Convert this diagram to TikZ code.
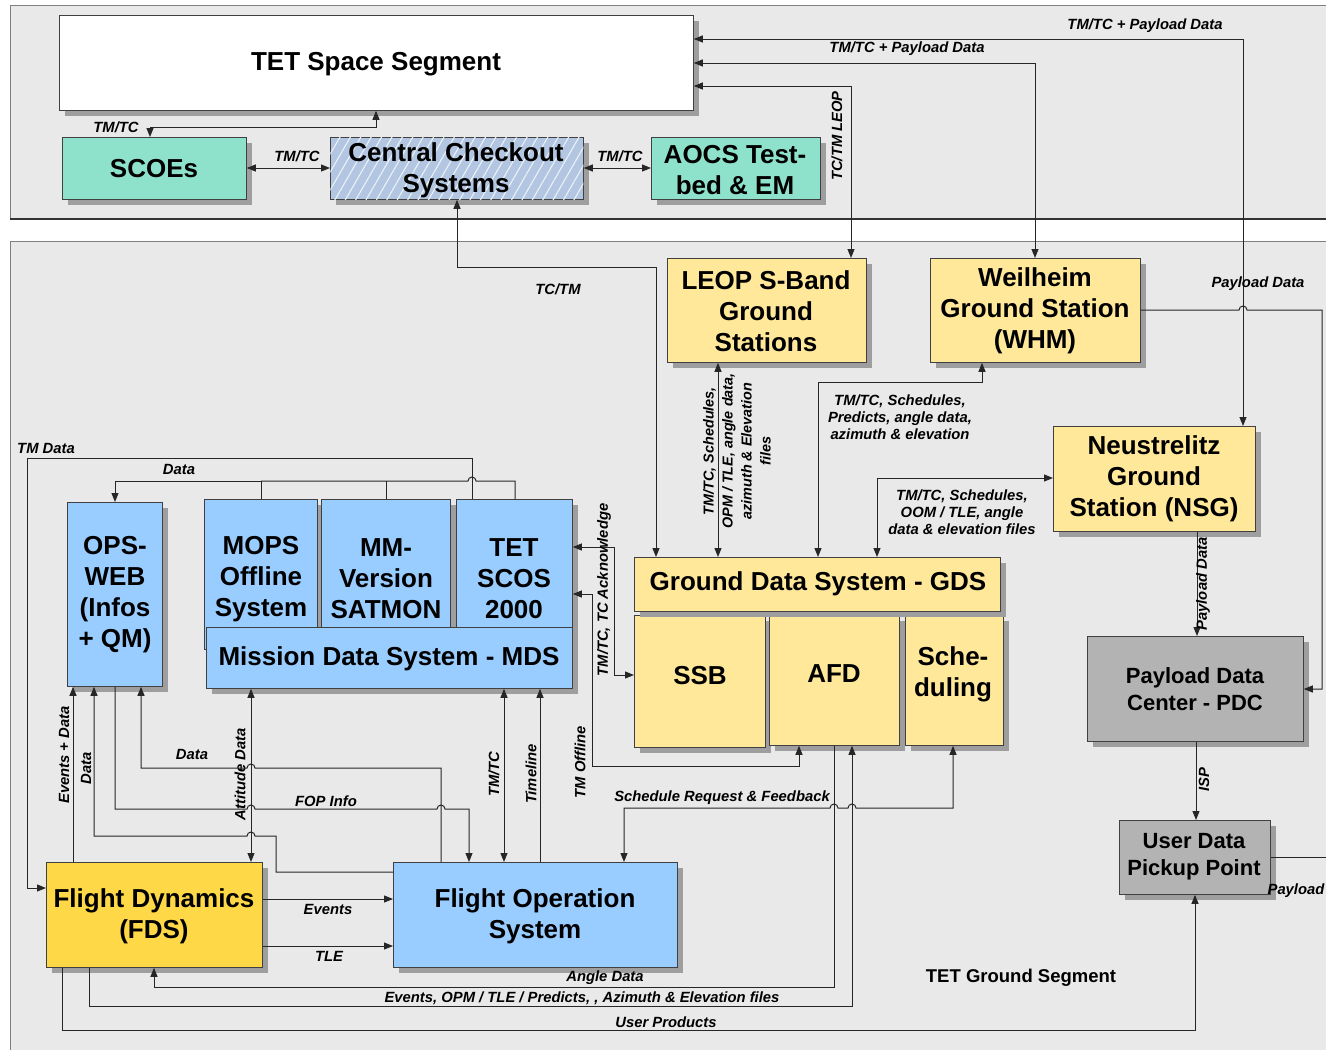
\documentclass[tikz,border=0pt]{standalone}
\usepackage{fontspec}
\setmainfont{Liberation Sans}
\usetikzlibrary{arrows.meta,shadows,patterns.meta}
\definecolor{panelbg}{RGB}{233,233,233}
\definecolor{tealbox}{RGB}{142,226,204}
\definecolor{ccsblue}{RGB}{178,198,226}
\definecolor{lightblue}{RGB}{153,204,255}
\definecolor{lightyellow}{RGB}{255,232,153}
\definecolor{goldbox}{RGB}{255,216,72}
\definecolor{graybox}{RGB}{179,179,179}
\begin{document}
\begin{tikzpicture}[x=1pt,y=-1pt,
  blk/.style={draw=black!75, line width=0.8pt, anchor=north west, inner sep=0pt,
     drop shadow={shadow xshift=6pt, shadow yshift=-6pt, fill=black!38, opacity=1}},
  txt/.style={align=center, font=\bfseries\fontsize{26}{31}\selectfont, inner sep=0pt, yshift=-2pt},
  smtxt/.style={align=center, font=\bfseries\fontsize{22}{27}\selectfont, inner sep=0pt, yshift=-1pt},
  lbl/.style={font=\bfseries\itshape\fontsize{14.8}{17}\selectfont, inner sep=0pt, align=center},
  conn/.style={line width=1pt, draw=black!85},
  >={Triangle[length=9pt,width=7pt]},
]
\useasboundingbox (0,0) rectangle (1326,1050);
\fill[white] (0,0) rectangle (1326,1050);
% panels
\fill[panelbg] (10,5) rectangle (1326,219);
\draw[black!50, line width=0.8pt] (1326,5) -- (10,5) -- (10,219);
\draw[black!80, line width=2pt] (10,219) -- (1326,219);
\fill[panelbg] (10,241) rectangle (1326,1050);
\draw[black!50, line width=0.8pt] (1326,241) -- (10,241) -- (10,1050);

% ---------- boxes ----------
\node[blk, fill=white, minimum width=634pt, minimum height=95pt] (tss) at (59,15) {};
\node[txt] (tsst) at (376,62) {TET Space Segment};
\node[blk, fill=tealbox, minimum width=184pt, minimum height=62pt] (scoes) at (62,137) {};
\node[txt] (scoest) at (154,167) {SCOEs};
\node[blk, fill=ccsblue, postaction={pattern={Lines[angle=60,distance=9pt,line width=1.1pt]}, pattern color=white!75!ccsblue}, minimum width=253pt, minimum height=62pt] (ccs) at (330,137) {};
\node[txt] (ccst) at (456,168) {Central Checkout\\Systems};
\node[blk, fill=tealbox, minimum width=169pt, minimum height=62pt] (aocs) at (651,137) {};
\node[txt] (aocst) at (735,168) {AOCS Test-\\bed \& EM};

\node[blk, fill=lightyellow, minimum width=199pt, minimum height=104pt] (leop) at (667,258) {};
\node[txt] (leopt) at (766,309) {LEOP S-Band\\Ground\\Stations};
\node[blk, fill=lightyellow, minimum width=210pt, minimum height=104pt] (whm) at (930,258) {};
\node[txt] (whmt) at (1035,309) {Weilheim\\Ground Station\\(WHM)};
\node[blk, fill=lightyellow, minimum width=202pt, minimum height=105pt] (nsg) at (1053,426) {};
\node[txt] (nsgt) at (1154,477) {Neustrelitz\\Ground\\Station (NSG)};
\node[blk, fill=graybox, minimum width=216pt, minimum height=105pt] (pdc) at (1087,636) {};
\node[smtxt] (pdct) at (1195,688) {Payload Data\\Center - PDC};
\node[blk, fill=graybox, minimum width=151pt, minimum height=74pt] (udpp) at (1119,820) {};
\node[smtxt] (udppt) at (1194,856) {User Data\\Pickup Point};

\node[blk, fill=lightblue, minimum width=95pt, minimum height=184pt] (opsweb) at (67,502) {};
\node[txt] (opswebt) at (115,593) {OPS-\\WEB\\(Infos\\+ QM)};
\node[blk, fill=lightblue, minimum width=113pt, minimum height=150pt] (mops) at (204,499) {};
\node[txt] (mopst) at (261,577) {MOPS\\Offline\\System};
\node[blk, fill=lightblue, minimum width=129pt, minimum height=128pt] (mm) at (321,499) {};
\node[txt] (mmt) at (386,577) {MM-\\Version\\SATMON};
\node[blk, fill=lightblue, minimum width=116pt, minimum height=128pt] (scos) at (456,499) {};
\node[txt] (scost) at (514,577) {TET\\SCOS\\2000};
\node[blk, fill=lightblue, minimum width=366pt, minimum height=61pt] (mds) at (206,627) {};
\node[txt] (mdst) at (389,657) {Mission Data System - MDS};

\node[blk, fill=lightyellow, minimum width=131pt, minimum height=132pt] (ssb) at (634,615) {};
\node[txt] (ssbt) at (700,674) {SSB};
\node[blk, fill=lightyellow, minimum width=130pt, minimum height=130pt] (afd) at (769,615) {};
\node[txt] (afdt) at (834,672) {AFD};
\node[blk, fill=lightyellow, minimum width=98pt, minimum height=130pt] (sched) at (905,615) {};
\node[txt] (schedt) at (953,672) {Sche-\\duling};
\node[blk, fill=lightyellow, minimum width=366pt, minimum height=54pt] (gds) at (634,557) {};
\node[txt] (gdst) at (818,582) {Ground Data System - GDS};

\node[blk, fill=goldbox, minimum width=216pt, minimum height=105pt] (fds) at (46,862) {};
\node[txt] (fdst) at (154,914) {Flight Dynamics\\(FDS)};
\node[blk, fill=lightblue, minimum width=284pt, minimum height=105pt] (fos) at (393,862) {};
\node[txt] (fost) at (535,914) {Flight Operation\\System};

\node[font=\bfseries\fontsize{18.5}{22}\selectfont, inner sep=0pt] (tgs) at (1021,978) {TET Ground Segment};

% ---------- top panel connectors ----------
\draw[conn,<->] (scoes.north -| 150,0) -- (150,127) -- (376,127) -- (tss.south -| 376,0);
\node[lbl] (l1) at (116,127) {TM/TC};
\draw[conn,<->] (scoes.east |- 0,168) -- (ccs.west |- 0,168);
\node[lbl] (l2) at (297,156) {TM/TC};
\draw[conn,<->] (ccs.east |- 0,168) -- (aocs.west |- 0,168);
\node[lbl] (l3) at (620,156) {TM/TC};

\draw[conn,<->] (tss.east |- 0,39) -- (1243,39) -- (nsg.north -| 1243,0);
\node[lbl] (l4) at (1145,26) {TM/TC + Payload Data};
\draw[conn,<->] (tss.east |- 0,63) -- (1035,63) -- (whm.north -| 1035,0);
\node[lbl] (l5) at (907,49) {TM/TC + Payload Data};
\draw[conn,<->] (tss.east |- 0,86) -- (851,86) -- (leop.north -| 851,0);
\node[lbl, rotate=90] (l6) at (837,136) {TC/TM LEOP};

\draw[conn,<->] (ccs.south -| 457,0) -- (457,267) -- (656,267) -- (gds.north -| 656,0);
\node[lbl] (l7) at (558,289) {TC/TM};

% ---------- ground stations ----------
\draw[conn,<->] (leop.south -| 718,0) -- (gds.north -| 718,0);
\node[lbl, rotate=90, font=\bfseries\itshape\fontsize{14.4}{19}\selectfont] (l8) at (737,451) {TM/TC, Schedules,\\OPM / TLE, angle data,\\azimuth \& Elevation\\files};
\draw[conn,<->] (gds.north -| 818,0) -- (818,382) -- (982,382) -- (whm.south -| 982,0);
\node[lbl] (l9) at (900,417) {TM/TC, Schedules,\\Predicts, angle data,\\azimuth \& elevation};
\draw[conn,<->] (gds.north -| 877,0) -- (877,478) -- (nsg.west |- 0,478);
\node[lbl] (l10) at (962,512) {TM/TC, Schedules,\\OOM / TLE, angle\\data \& elevation files};
\draw[conn,->] (whm.east |- 0,310) -- (1239,310) arc[start angle=180,end angle=0,radius=4pt] -- (1322,310) -- (1322,689) -- (pdc.east |- 0,689);
\node[lbl] (l11) at (1258,284) {Payload Data};
\draw[conn,->] (nsg.south -| 1197,0) -- (pdc.north -| 1197,0);
\node[lbl, rotate=90] (l12) at (1203,584) {Payload Data};
\draw[conn,->] (pdc.south -| 1196,0) -- (udpp.north -| 1196,0);
\node[lbl, rotate=90] (l13) at (1204,780) {ISP};
\coordinate (rightend) at (1326,857);
\draw[conn] (udpp.east |- 0,857) -- (rightend);
\node[lbl] (l14) at (1296,891) {Payload};

% ---------- bottom long lines ----------
\draw[conn,->] (fds.south -| 62,0) -- (62,1030) -- (1195,1030) -- (udpp.south -| 1195,0);
\node[lbl] (l15) at (666,1022) {User Products};
\draw[conn,->] (fds.south -| 89,0) -- (89,1006) -- (852,1006) -- (afd.south -| 852,0);
\node[lbl] (l16) at (582,998) {Events, OPM / TLE / Predicts, , Azimuth \& Elevation files};
\draw[conn,->] (afd.south -| 834,0) -- (834,987) -- (154,987) -- (fds.south -| 154,0);
\node[lbl] (l17) at (605,978) {Angle Data};
\draw[conn,<->] (sched.south -| 953,0) -- (953,808) -- (856,808) arc[start angle=0,end angle=180,radius=4pt] -- (838,808) arc[start angle=0,end angle=180,radius=4pt] -- (624,808) -- (fos.north -| 624,0);
\node[lbl] (l18) at (722,798) {Schedule Request \& Feedback};

% ---------- MDS / GDS ----------
\draw[conn,<->] (afd.south -| 799,0) -- (799,766) -- (592,766) -- (592,594) -- (scos.east |- 0,594);
\node[lbl, rotate=90] (l19) at (580,762) {TM Offline};
\draw[conn,<->] (scos.east |- 0,547) -- (614,547) -- (614,675) -- (ssb.west |- 0,675);
\node[lbl, rotate=90] (l20) at (604,590) {TM/TC, TC Acknowledge};

\draw[conn,->] (mops.north -| 261,0) -- (261,481) -- (115,481) -- (opsweb.north -| 115,0);
\draw[conn] (mm.north -| 386,0) -- (386,481);
\draw[conn] (scos.north -| 515,0) -- (515,481) -- (476,481) arc[start angle=0,end angle=180,radius=4pt] -- (261,481);
\node[lbl] (l21) at (179,469) {Data};
\draw[conn,->] (scos.north -| 472,0) -- (472,458) -- (27,458) -- (27,888) -- (fds.west |- 0,888);
\node[lbl] (l22) at (46,448) {TM Data};

% ---------- FDS / FOS / OPS-WEB ----------
\draw[conn,<->] (mds.south -| 251,0) -- (fds.north -| 251,0);
\node[lbl, rotate=90] (l23) at (240,774) {Attitude Data};
\draw[conn,->] (fds.north -| 73,0) -- (opsweb.south -| 73,0);
\node[lbl, rotate=90] (l24) at (64,755) {Events + Data};
\draw[conn,->] (fos.west |- 0,872) -- (276,872) -- (276,836) -- (255,836) arc[start angle=0,end angle=180,radius=4pt] -- (94,836) -- (opsweb.south -| 94,0);
\node[lbl, rotate=90] (l25) at (86,768) {Data};
\draw[conn,->] (opsweb.south -| 115,0) -- (115,809) -- (247,809) arc[start angle=180,end angle=0,radius=4pt] -- (437,809) arc[start angle=180,end angle=0,radius=4pt] -- (469,809) -- (fos.north -| 469,0);
\node[lbl] (l26) at (326,801) {FOP Info};
\draw[conn,->] (fos.north -| 441,0) -- (441,768) -- (255,768) arc[start angle=0,end angle=180,radius=4pt] -- (141,768) -- (opsweb.south -| 141,0);
\node[lbl] (l27) at (192,754) {Data};
\draw[conn,<->] (mds.south -| 504,0) -- (fos.north -| 504,0);
\node[lbl, rotate=90] (l28) at (494,774) {TM/TC};
\draw[conn,->] (fos.north -| 540,0) -- (mds.south -| 540,0);
\node[lbl, rotate=90] (l29) at (531,774) {Timeline};
\draw[conn,->] (fds.east |- 0,899) -- (fos.west |- 0,899);
\node[lbl] (l30) at (328,909) {Events};
\draw[conn,->] (fds.east |- 0,946) -- (fos.west |- 0,946);
\node[lbl] (l31) at (329,956) {TLE};
\end{tikzpicture}
\end{document}
